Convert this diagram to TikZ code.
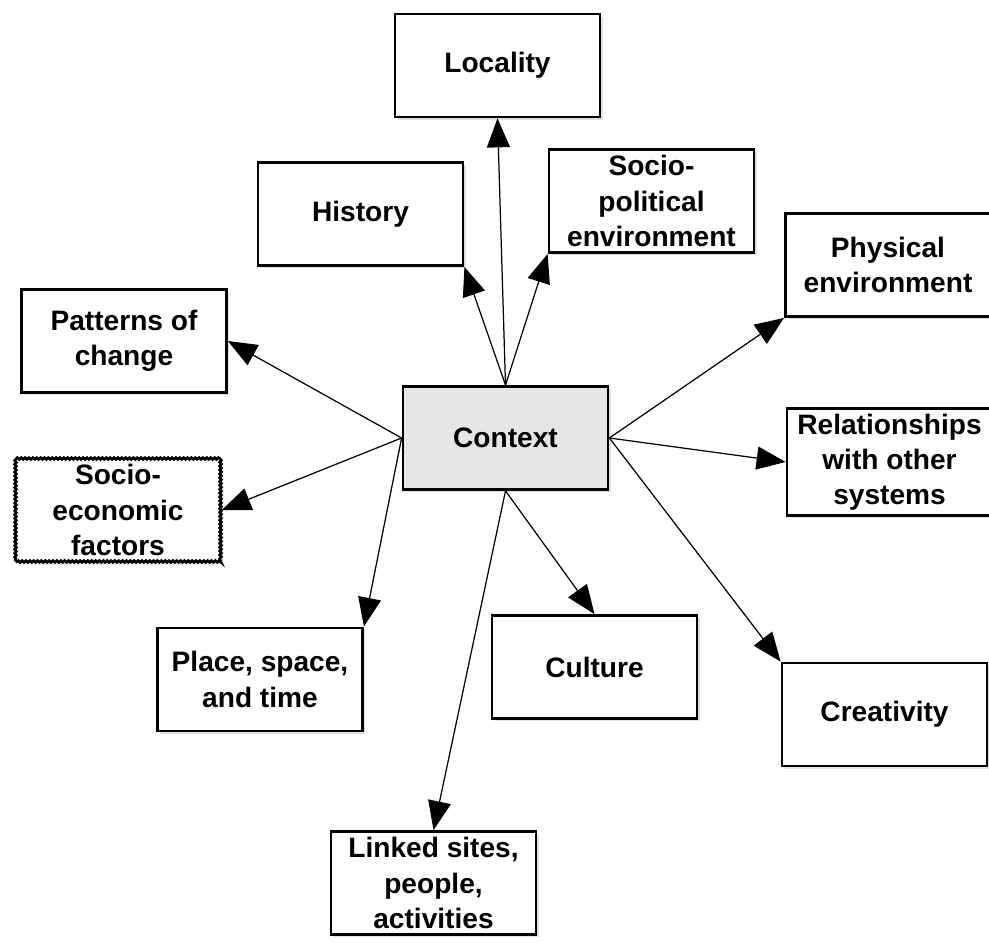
\documentclass[tikz,border=0pt]{standalone}
\usepackage{fontspec}
\setmainfont{Liberation Sans}
\usepackage{xcolor}
\usepackage{tikz}
\usetikzlibrary{arrows.meta,shadows,decorations.pathmorphing}

\definecolor{ctxgray}{RGB}{230,230,230}

\begin{document}
\begin{tikzpicture}[x=0.02cm,y=-0.02cm,
  box/.style={draw,line width=1.6pt,fill=white,minimum width=4.1cm,minimum height=2.06cm,
    align=center,inner sep=3pt,font=\fontsize{16}{20}\selectfont\bfseries,
    drop shadow={opacity=0.25,shadow xshift=1.5pt,shadow yshift=-1.5pt}},
  link/.style={-{Triangle[length=0.58cm,width=0.46cm]},line width=0.7pt}]

\useasboundingbox (0,0) rectangle (989,942);

\node[box,fill=ctxgray](context) at (505.5,438){Context};

\node[box](locality) at (497.5,65.5){Locality};
\node[box](history) at (360.5,214){History};
\node[box](sociopol) at (651.5,201){Socio-\\political\\environment};
\node[box](physical) at (888,265){Physical\\environment};
\node[box](relations) at (889.5,462){Relationships\\with other\\systems};
\node[box](creativity) at (884.5,714.5){Creativity};
\node[box](culture) at (594.5,667){Culture};
\node[box](linked) at (433.5,883){Linked sites,\\people,\\activities};
\node[box](place) at (260,679.5){Place, space,\\and time};
\node[box,decorate,decoration={zigzag,amplitude=0.5pt,segment length=2.2pt,pre length=1pt,post length=1pt},line width=1.5pt](socioeco) at (118,510){Socio-\\economic\\factors};
\node[box](patterns) at (124,341){Patterns of\\change};

\draw[link](context.north)--(locality.south);
\draw[link](context.north)--(history.south east);
\draw[link](context.north)--(sociopol.south west);

\draw[link](context.east)--(physical.south west);
\draw[link](context.east)--(relations.west);
\draw[link](context.east)--(creativity.north west);

\draw[link](context.south)--(culture.north);
\draw[link](context.south)--(linked.north);

\draw[link](context.west)--(place.north east);
\draw[link](context.west)--(socioeco.east);
\draw[link](context.west)--(patterns.east);

\end{tikzpicture}
\end{document}
